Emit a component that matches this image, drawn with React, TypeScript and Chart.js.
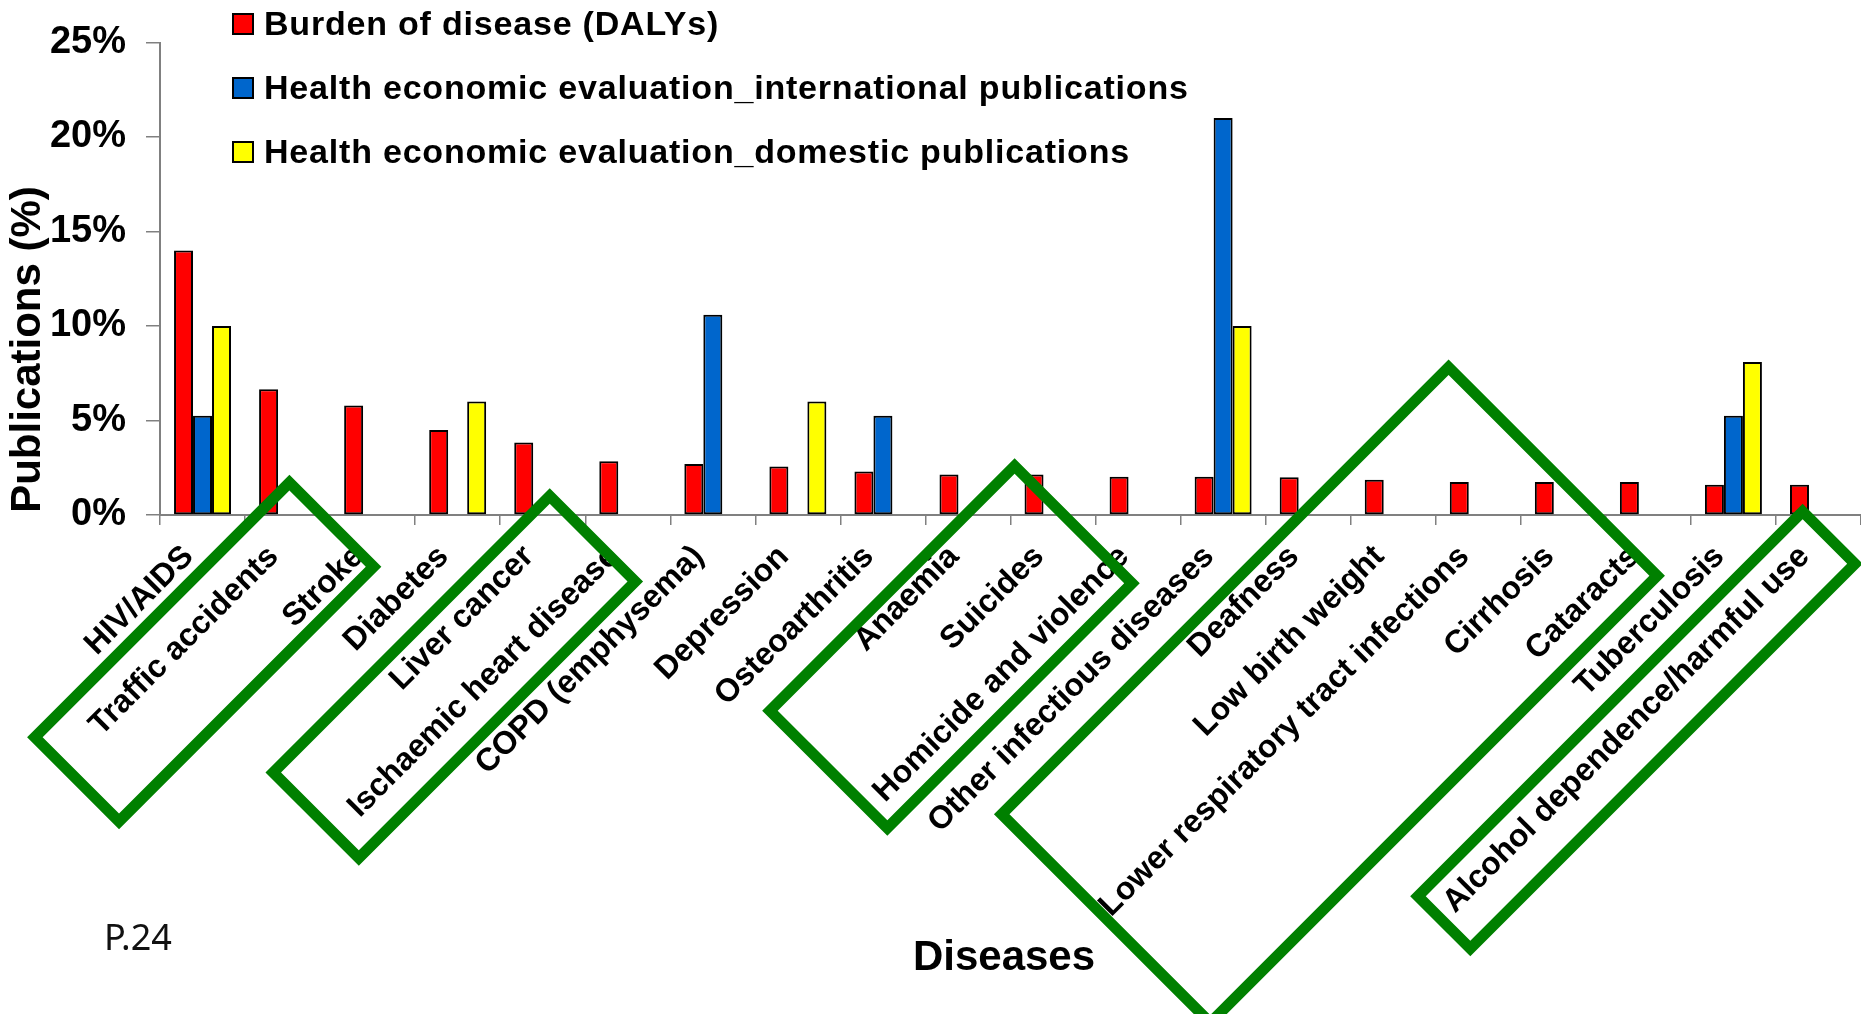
import React, { useEffect, useRef } from 'react';
import { Chart, registerables } from 'chart.js';

Chart.register(...registerables);

// ---------- data ----------
const CATEGORIES = [
  'HIV/AIDS',
  'Traffic accidents',
  'Stroke',
  'Diabetes',
  'Liver cancer',
  'Ischaemic heart disease',
  'COPD (emphysema)',
  'Depression',
  'Osteoarthritis',
  'Anaemia',
  'Suicides',
  'Homicide and violence',
  'Other infectious diseases',
  'Deafness',
  'Low birth weight',
  'Lower respiratory tract infections',
  'Cirrhosis',
  'Cataracts',
  'Tuberculosis',
  'Alcohol dependence/harmful use',
];

const SERIES_LABELS = [
  'Burden of disease (DALYs)',
  'Health economic evaluation_international publications',
  'Health economic evaluation_domestic publications',
];

const BURDEN = [14.0, 6.65, 5.8, 4.5, 3.83, 2.84, 2.7, 2.56, 2.3, 2.14, 2.14, 2.02, 2.02, 2.0, 1.87, 1.75, 1.75, 1.75, 1.6, 1.6];
const INTERNATIONAL = [5.25, null, null, null, null, null, 10.6, null, 5.25, null, null, null, 21.0, null, null, null, null, null, 5.25, null];
const DOMESTIC = [10.0, null, null, 6.0, null, null, null, 6.0, null, null, null, null, 10.0, null, null, null, null, null, 8.1, null];

const Y_TICKS = [0, 5, 10, 15, 20, 25];

const SERIES_COLORS = ['#FF0000', '#0066CC', '#FFFF00'];

// green highlight frames (annotation): centre given as category position + distance below the axis
const HIGHLIGHTS = [
  { at: 0.02, below: 137, long: 360, short: 119 },
  { at: 2.96, below: 162, long: 391, short: 121 },
  { at: 8.8, below: 132, long: 346, short: 166 },
  { at: 13.25, below: 180, long: 632, short: 295 },
  { at: 16.86, below: 215, long: 544, short: 74 },
];

const FONT = '"Liberation Sans", Arial, sans-serif';

const overlayPlugin = {
  id: 'overlay',
  afterDraw(chart: any) {
    const ctx: CanvasRenderingContext2D = chart.ctx;
    const xs = chart.scales.x;
    const area = chart.chartArea;

    // legend
    ctx.save();
    chart.data.datasets.forEach((ds: any, i: number) => {
      const top = 14 + i * 64;
      ctx.fillStyle = ds.backgroundColor;
      ctx.fillRect(233, top, 20, 20);
      ctx.strokeStyle = '#000';
      ctx.lineWidth = 2;
      ctx.strokeRect(233, top, 20, 20);
      ctx.fillStyle = '#000';
      ctx.font = `bold 34px ${FONT}`;
      (ctx as any).letterSpacing = '0.8px';
      ctx.textAlign = 'left';
      ctx.textBaseline = 'alphabetic';
      ctx.fillText(ds.label, 264, 35 + i * 64);
    });
    (ctx as any).letterSpacing = '0px';
    ctx.restore();

    // y axis title
    ctx.save();
    ctx.translate(28, 349.5);
    ctx.rotate(-Math.PI / 2);
    ctx.fillStyle = '#000';
    ctx.font = `bold 42px ${FONT}`;
    ctx.textAlign = 'center';
    ctx.textBaseline = 'middle';
    ctx.fillText('Publications (%)', 0, 0);
    ctx.restore();

    // x axis title
    ctx.save();
    ctx.fillStyle = '#000';
    ctx.font = `bold 42px ${FONT}`;
    ctx.textAlign = 'center';
    ctx.textBaseline = 'alphabetic';
    ctx.fillText('Diseases', 1004, 970);
    ctx.restore();

    // page number
    ctx.save();
    ctx.fillStyle = '#111';
    ctx.font = `36px "Noto Sans", ${FONT}`;
    ctx.textAlign = 'left';
    ctx.textBaseline = 'alphabetic';
    ctx.fillText('P.24', 104, 950);
    ctx.restore();

    // highlight frames
    ctx.save();
    ctx.strokeStyle = '#008000';
    ctx.lineWidth = 11;
    ctx.lineJoin = 'miter';
    HIGHLIGHTS.forEach((h) => {
      const cx = xs.getPixelForValue(h.at);
      const cy = area.bottom + h.below;
      ctx.save();
      ctx.translate(cx, cy);
      ctx.rotate(-Math.PI / 4);
      ctx.strokeRect(-h.long / 2, -h.short / 2, h.long, h.short);
      ctx.restore();
    });
    ctx.restore();
  },
};

export default function App() {
  const ref = useRef<HTMLCanvasElement>(null);

  useEffect(() => {
    const seriesData = [BURDEN, INTERNATIONAL, DOMESTIC];
    const chart = new Chart(ref.current as HTMLCanvasElement, {
      type: 'bar',
      data: {
        labels: CATEGORIES,
        datasets: seriesData.map((d, i) => ({
          label: SERIES_LABELS[i],
          data: d as any,
          backgroundColor: SERIES_COLORS[i],
          borderColor: '#000',
          borderWidth: 2,
          borderSkipped: false,
          barPercentage: 1,
          categoryPercentage: 0.67,
        })),
      },
      options: {
        responsive: false,
        animation: false,
        devicePixelRatio: 1,
        layout: { padding: { top: 42.5, left: 0, right: 0, bottom: 0 } },
        plugins: {
          legend: { display: false },
          tooltip: { enabled: false },
        },
        scales: {
          x: {
            offset: true,
            grid: {
              display: true,
              drawOnChartArea: false,
              drawTicks: true,
              tickLength: 10,
              color: '#808080',
              lineWidth: 1.5,
              offset: true,
            },
            border: { display: true, color: '#808080', width: 2 },
            ticks: {
              autoSkip: false,
              maxRotation: 45,
              minRotation: 45,
              padding: 13,
              labelOffset: -14,
              color: '#000',
              font: { family: FONT, size: 32, weight: 'bold' },
            },
            afterFit: (s: any) => {
              s.height = 499;
              s.paddingLeft = 0;
              s.paddingRight = 0;
              s.paddingTop = 0;
              s.paddingBottom = 0;
            },
          },
          y: {
            min: 0,
            max: 25,
            afterBuildTicks: (s: any) => {
              s.ticks = Y_TICKS.map((v) => ({ value: v }));
            },
            ticks: {
              padding: 20,
              color: '#000',
              font: { family: FONT, size: 38, weight: 'bold' },
              callback: (v: any) => `${v}%`,
            },
            grid: {
              display: true,
              drawOnChartArea: false,
              drawTicks: true,
              tickLength: 14,
              color: '#808080',
              lineWidth: 1.5,
            },
            border: { display: true, color: '#808080', width: 2 },
            afterFit: (s: any) => {
              s.width = 160;
              s.paddingLeft = 0;
              s.paddingRight = 0;
              s.paddingTop = 0;
              s.paddingBottom = 0;
            },
          },
        },
      } as any,
      plugins: [overlayPlugin],
    });
    return () => chart.destroy();
  }, []);

  return (
    <div style={{ position: 'absolute', left: 0, top: 0, width: 1861, height: 1014, background: '#fff' }}>
      <canvas ref={ref} width={1861} height={1014} style={{ display: 'block', width: 1861, height: 1014 }} />
    </div>
  );
}
